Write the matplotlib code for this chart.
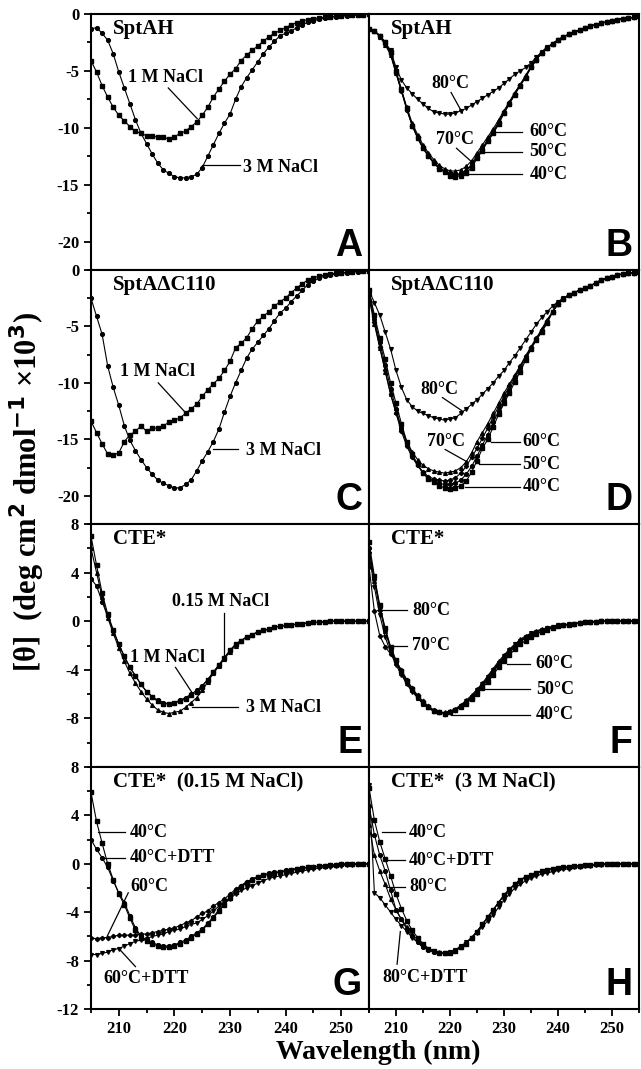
import matplotlib
matplotlib.use("Agg")
import matplotlib.pyplot as plt
from matplotlib.ticker import MultipleLocator
import numpy as np

plt.rcParams['axes.unicode_minus'] = False
plt.rcParams['font.family'] = ['Liberation Serif', 'DejaVu Serif']
plt.rcParams['font.weight'] = 'bold'

# wavelength grid (nm), one point per nm
wl = np.arange(205, 256)

############################## data (mdeg*cm2/dmol x10^3) ##############################
# A: SptAH, salt
a_1m = [-4.1, -5.1, -6.3, -7.3, -8.2, -8.9, -9.4, -9.9, -10.3, -10.5,
        -10.7, -10.75, -10.8, -10.8, -11.0, -10.8, -10.5, -10.3, -9.9, -9.5,
        -8.9, -8.2, -7.3, -6.6, -5.9, -5.3, -4.8, -4.1, -3.6, -3.2,
        -2.8, -2.4, -2.0, -1.7, -1.45, -1.2, -0.95, -0.75, -0.6, -0.5,
        -0.4, -0.35, -0.3, -0.25, -0.2, -0.15, -0.1, -0.1, -0.05, -0.05, 0.0]
a_3m = [-1.3, -1.2, -1.7, -2.3, -3.5, -5.1, -6.5, -7.9, -9.3, -10.5,
        -11.4, -12.3, -13.1, -13.7, -14.0, -14.3, -14.4, -14.4, -14.3, -14.1,
        -13.5, -12.5, -11.5, -10.5, -9.6, -8.8, -7.5, -6.4, -5.6, -4.9,
        -4.2, -3.5, -2.9, -2.4, -1.9, -1.7, -1.5, -1.2, -1.0, -0.7,
        -0.6, -0.45, -0.35, -0.3, -0.25, -0.2, -0.15, -0.1, -0.1, -0.05, 0.0]

# B: SptAH, temperature
b40 = [-1.3, -1.5, -1.9, -2.5, -3.3, -5.0, -6.6, -8.3, -9.8, -10.9,
       -11.8, -12.5, -13.1, -13.6, -13.9, -14.2, -14.3, -14.2, -14.0, -13.5,
       -12.7, -12.0, -11.2, -10.5, -9.7, -8.7, -7.9, -7.1, -6.3, -5.6,
       -4.7, -4.0, -3.4, -3.0, -2.6, -2.3, -2.0, -1.8, -1.6, -1.4,
       -1.2, -1.05, -0.95, -0.8, -0.7, -0.6, -0.5, -0.4, -0.35, -0.3, -0.2]
b50 = [-1.3, -1.5, -1.9, -2.5, -3.4, -5.1, -6.7, -8.4, -9.8, -10.9,
       -11.8, -12.5, -13.1, -13.5, -13.8, -14.1, -14.2, -14.1, -13.8, -13.2,
       -12.4, -11.8, -11.0, -10.3, -9.5, -8.6, -7.8, -7.0, -6.2, -5.5,
       -4.7, -4.0, -3.4, -3.0, -2.6, -2.3, -2.0, -1.8, -1.6, -1.4,
       -1.2, -1.05, -0.95, -0.8, -0.7, -0.6, -0.5, -0.4, -0.35, -0.3, -0.2]
b60 = [-1.3, -1.5, -1.9, -2.6, -3.5, -5.2, -6.8, -8.4, -9.8, -10.8,
       -11.7, -12.4, -13.0, -13.5, -13.8, -14.0, -14.1, -14.0, -13.8, -13.3,
       -12.6, -11.9, -11.1, -10.4, -9.6, -8.7, -7.9, -7.0, -6.2, -5.5,
       -4.7, -4.0, -3.4, -3.0, -2.6, -2.3, -2.0, -1.8, -1.6, -1.4,
       -1.2, -1.05, -0.95, -0.8, -0.7, -0.6, -0.5, -0.4, -0.35, -0.3, -0.2]
b70 = [-1.3, -1.5, -2.0, -2.7, -3.6, -5.2, -6.7, -8.2, -9.6, -10.6,
       -11.5, -12.2, -12.8, -13.3, -13.6, -13.8, -13.8, -13.7, -13.4, -12.9,
       -12.2, -11.5, -10.8, -10.1, -9.3, -8.5, -7.7, -6.9, -6.2, -5.4,
       -4.6, -4.0, -3.4, -3.0, -2.6, -2.3, -2.0, -1.8, -1.6, -1.4,
       -1.2, -1.05, -0.95, -0.8, -0.7, -0.6, -0.5, -0.4, -0.35, -0.3, -0.2]
b80 = [-1.3, -1.5, -1.9, -2.5, -3.2, -4.7, -5.8, -6.5, -7.0, -7.5,
       -7.9, -8.3, -8.6, -8.7, -8.8, -8.8, -8.7, -8.5, -8.3, -8.0,
       -7.7, -7.4, -7.1, -6.8, -6.5, -6.1, -5.7, -5.3, -5.0, -4.7,
       -4.3, -3.8, -3.3, -2.9, -2.6, -2.3, -2.0, -1.8, -1.6, -1.4,
       -1.2, -1.05, -0.95, -0.8, -0.7, -0.6, -0.5, -0.4, -0.35, -0.3, -0.2]

# C: SptAdC110, salt
c_1m = [-13.4, -14.4, -15.4, -16.3, -16.4, -16.2, -15.2, -14.6, -14.3, -13.8,
        -14.3, -14.0, -14.0, -13.8, -13.5, -13.3, -13.1, -12.7, -12.3, -11.9,
        -11.2, -10.6, -10.1, -9.6, -8.9, -8.1, -6.9, -6.5, -6.0, -5.2,
        -4.5, -4.1, -3.7, -3.2, -2.8, -2.5, -2.0, -1.6, -1.2, -0.9,
        -0.7, -0.55, -0.45, -0.35, -0.3, -0.25, -0.2, -0.15, -0.1, -0.1, -0.05]
c_3m = [-2.5, -4.1, -5.7, -8.5, -10.4, -12.0, -13.8, -15.1, -16.0, -16.8,
        -17.5, -18.1, -18.6, -18.9, -19.1, -19.3, -19.3, -19.0, -18.6, -17.8,
        -16.9, -16.1, -15.2, -14.1, -12.6, -11.2, -10.0, -8.9, -7.8, -7.0,
        -6.4, -5.8, -5.2, -4.5, -3.8, -3.4, -2.8, -2.3, -1.8, -1.3,
        -1.0, -0.7, -0.55, -0.45, -0.35, -0.3, -0.25, -0.2, -0.15, -0.1, -0.1]

# D: SptAdC110, temperature
d40 = [-1.8, -4.0, -6.0, -7.9, -10.0, -11.8, -13.6, -15.2, -16.3, -17.2,
       -18.0, -18.5, -18.8, -19.1, -19.3, -19.4, -19.3, -19.1, -18.7, -17.9,
       -16.9, -15.8, -15.0, -13.9, -12.8, -11.8, -10.9, -9.9, -9.0, -8.0,
       -7.0, -6.2, -5.5, -4.7, -3.7, -3.0, -2.6, -2.2, -2.0, -1.8,
       -1.6, -1.4, -1.15, -0.9, -0.75, -0.6, -0.45, -0.35, -0.3, -0.25, -0.2]
d50 = [-2.0, -4.3, -6.4, -8.4, -10.5, -12.3, -14.0, -15.4, -16.5, -17.3,
       -18.0, -18.4, -18.7, -18.9, -19.0, -19.0, -18.9, -18.6, -18.1, -17.4,
       -16.5, -15.5, -14.6, -13.5, -12.5, -11.5, -10.6, -9.6, -8.7, -7.8,
       -6.9, -6.1, -5.4, -4.6, -3.7, -3.0, -2.6, -2.2, -2.0, -1.8,
       -1.6, -1.4, -1.15, -0.9, -0.75, -0.6, -0.45, -0.35, -0.3, -0.25, -0.2]
d60 = [-2.2, -4.6, -6.8, -8.9, -11.0, -12.7, -14.3, -15.6, -16.6, -17.3,
       -17.9, -18.3, -18.5, -18.6, -18.7, -18.6, -18.4, -18.0, -17.4, -16.6,
       -15.8, -14.9, -14.0, -13.0, -12.1, -11.2, -10.3, -9.4, -8.5, -7.6,
       -6.8, -6.0, -5.3, -4.5, -3.7, -3.0, -2.6, -2.2, -2.0, -1.8,
       -1.6, -1.4, -1.15, -0.9, -0.75, -0.6, -0.45, -0.35, -0.3, -0.25, -0.2]
d70 = [-2.5, -4.8, -6.9, -9.0, -11.0, -12.6, -14.0, -15.2, -16.1, -16.8,
       -17.3, -17.6, -17.8, -17.9, -18.0, -17.9, -17.8, -17.5, -17.0, -16.2,
       -15.2, -14.4, -13.6, -12.7, -11.8, -10.9, -10.1, -9.3, -8.5, -7.7,
       -6.9, -6.1, -5.2, -4.4, -3.7, -3.0, -2.6, -2.2, -2.0, -1.8,
       -1.6, -1.4, -1.15, -0.9, -0.75, -0.6, -0.45, -0.35, -0.3, -0.25, -0.2]
d80 = [-1.8, -2.9, -4.0, -5.5, -7.0, -8.9, -10.4, -11.5, -12.1, -12.5,
       -12.7, -12.9, -13.1, -13.2, -13.3, -13.2, -13.1, -12.7, -12.3, -11.9,
       -11.5, -11.0, -10.5, -10.0, -9.4, -8.9, -8.2, -7.6, -6.9, -6.2,
       -5.5, -4.8, -4.2, -3.7, -3.2, -2.8, -2.5, -2.2, -2.0, -1.8,
       -1.6, -1.4, -1.15, -0.9, -0.75, -0.6, -0.45, -0.35, -0.3, -0.25, -0.2]

# E: CTE*, salt
e015 = [7.0, 4.6, 2.3, 0.6, -0.7, -1.9, -2.9, -3.8, -4.5, -5.2,
        -5.8, -6.2, -6.6, -6.8, -6.8, -6.7, -6.6, -6.4, -6.1, -5.8,
        -5.4, -4.8, -4.2, -3.6, -3.0, -2.4, -1.9, -1.6, -1.3, -1.1,
        -0.9, -0.75, -0.65, -0.5, -0.4, -0.35, -0.3, -0.25, -0.2, -0.15,
        -0.1, -0.1, -0.05, 0.0, 0.0, 0.0, 0.0, 0.0, 0.0, 0.0, 0.0]
e1m = [3.5, 2.9, 1.6, 0.4, -0.8, -1.9, -2.9, -3.8, -4.5, -5.2,
       -5.8, -6.2, -6.5, -6.7, -6.8, -6.7, -6.5, -6.3, -6.0, -5.7,
       -5.3, -4.8, -4.2, -3.6, -3.0, -2.4, -1.9, -1.6, -1.3, -1.1,
       -0.9, -0.75, -0.65, -0.5, -0.4, -0.35, -0.3, -0.25, -0.2, -0.15,
       -0.1, -0.1, -0.05, 0.0, 0.0, 0.0, 0.0, 0.0, 0.0, 0.0, 0.0]
e3m = [6.0, 4.0, 2.0, 0.3, -1.0, -2.2, -3.3, -4.3, -5.1, -5.8,
       -6.4, -6.9, -7.3, -7.5, -7.6, -7.5, -7.4, -7.1, -6.7, -6.3,
       -5.7, -5.0, -4.3, -3.7, -3.1, -2.5, -2.0, -1.6, -1.3, -1.1,
       -0.9, -0.75, -0.65, -0.5, -0.4, -0.35, -0.3, -0.25, -0.2, -0.15,
       -0.1, -0.1, -0.05, 0.0, 0.0, 0.0, 0.0, 0.0, 0.0, 0.0, 0.0]

# F: CTE*, temperature
f40 = [6.5, 3.7, 1.3, -0.6, -2.1, -3.2, -4.1, -4.9, -5.6, -6.2,
       -6.7, -7.1, -7.4, -7.5, -7.6, -7.5, -7.3, -7.1, -6.8, -6.4,
       -6.0, -5.5, -5.0, -4.4, -3.8, -3.3, -2.8, -2.3, -1.9, -1.6,
       -1.3, -1.05, -0.85, -0.7, -0.55, -0.4, -0.35, -0.3, -0.2, -0.15,
       -0.1, -0.1, -0.05, 0.0, 0.0, 0.0, 0.0, 0.0, 0.0, 0.0, 0.0]
f50 = [6.0, 3.5, 1.2, -0.7, -2.2, -3.3, -4.2, -5.0, -5.7, -6.2,
       -6.7, -7.1, -7.4, -7.5, -7.6, -7.5, -7.3, -7.0, -6.7, -6.3,
       -5.9, -5.4, -4.8, -4.2, -3.6, -3.1, -2.6, -2.1, -1.7, -1.4,
       -1.1, -0.9, -0.75, -0.6, -0.5, -0.4, -0.3, -0.25, -0.2, -0.15,
       -0.1, -0.1, -0.05, 0.0, 0.0, 0.0, 0.0, 0.0, 0.0, 0.0, 0.0]
f60 = [5.8, 3.3, 1.0, -0.8, -2.3, -3.4, -4.3, -5.1, -5.7, -6.3,
       -6.8, -7.1, -7.4, -7.5, -7.5, -7.4, -7.2, -6.9, -6.5, -6.1,
       -5.6, -5.1, -4.5, -3.9, -3.3, -2.8, -2.3, -1.9, -1.5, -1.2,
       -1.0, -0.8, -0.65, -0.55, -0.45, -0.35, -0.3, -0.25, -0.2, -0.15,
       -0.1, -0.1, -0.05, 0.0, 0.0, 0.0, 0.0, 0.0, 0.0, 0.0, 0.0]
f70 = [5.5, 2.8, 0.5, -1.3, -2.6, -3.6, -4.4, -5.2, -5.8, -6.3,
       -6.8, -7.1, -7.4, -7.5, -7.6, -7.5, -7.3, -7.0, -6.6, -6.2,
       -5.7, -5.2, -4.6, -4.0, -3.4, -2.9, -2.4, -1.9, -1.6, -1.3,
       -1.0, -0.85, -0.7, -0.55, -0.45, -0.35, -0.3, -0.25, -0.2, -0.15,
       -0.1, -0.1, -0.05, 0.0, 0.0, 0.0, 0.0, 0.0, 0.0, 0.0, 0.0]
f80 = [4.5, 0.8, -1.2, -2.1, -2.7, -3.3, -4.0, -4.8, -5.5, -6.1,
       -6.6, -7.0, -7.3, -7.5, -7.6, -7.5, -7.3, -7.0, -6.7, -6.3,
       -5.8, -5.3, -4.7, -4.1, -3.5, -3.0, -2.5, -2.0, -1.6, -1.3,
       -1.05, -0.85, -0.7, -0.55, -0.45, -0.35, -0.3, -0.25, -0.2, -0.15,
       -0.1, -0.1, -0.05, 0.0, 0.0, 0.0, 0.0, 0.0, 0.0, 0.0, 0.0]

# G: CTE* in 0.15 M NaCl, temperature +/- DTT
g40 = [5.9, 3.5, 1.7, 0.0, -1.3, -2.5, -3.4, -4.5, -5.5, -6.1,
       -6.4, -6.6, -6.8, -6.9, -6.9, -6.8, -6.6, -6.4, -6.1, -5.8,
       -5.5, -5.0, -4.5, -3.9, -3.4, -2.8, -2.3, -1.9, -1.6, -1.3,
       -1.1, -0.95, -0.85, -0.75, -0.7, -0.6, -0.5, -0.45, -0.35, -0.3,
       -0.25, -0.2, -0.15, -0.1, -0.1, -0.05, 0.0, 0.0, 0.0, 0.0, 0.0]
g40dtt = [2.0, 1.2, 0.5, -0.3, -1.4, -2.4, -3.2, -4.3, -5.3, -6.0,
          -6.3, -6.5, -6.7, -6.8, -6.8, -6.7, -6.5, -6.3, -6.0, -5.7,
          -5.4, -4.9, -4.4, -3.8, -3.3, -2.7, -2.2, -1.8, -1.5, -1.25,
          -1.05, -0.9, -0.8, -0.7, -0.65, -0.55, -0.5, -0.4, -0.35, -0.3,
          -0.25, -0.2, -0.15, -0.1, -0.1, -0.05, 0.0, 0.0, 0.0, 0.0, 0.0]
g60 = [-6.1, -6.2, -6.1, -6.1, -6.0, -5.9, -5.9, -5.9, -5.9, -5.8,
       -5.8, -5.7, -5.6, -5.5, -5.4, -5.3, -5.1, -4.9, -4.7, -4.4,
       -4.1, -3.9, -3.5, -3.2, -2.9, -2.5, -2.1, -1.8, -1.5, -1.3,
       -1.1, -0.95, -0.85, -0.75, -0.7, -0.6, -0.5, -0.4, -0.35, -0.3,
       -0.25, -0.2, -0.15, -0.1, -0.1, -0.05, 0.0, 0.0, 0.0, 0.0, 0.0]
g60dtt = [-7.5, -7.5, -7.4, -7.3, -7.1, -7.0, -6.8, -6.6, -6.4, -6.3,
          -6.2, -6.0, -5.9, -5.8, -5.6, -5.5, -5.4, -5.2, -5.0, -4.9,
          -4.6, -4.3, -3.9, -3.5, -3.2, -2.9, -2.5, -2.2, -2.0, -1.8,
          -1.6, -1.4, -1.2, -1.1, -1.0, -0.9, -0.8, -0.7, -0.6, -0.5,
          -0.4, -0.35, -0.3, -0.25, -0.2, -0.15, -0.1, -0.1, -0.05, 0.0, 0.0]

# H: CTE* in 3 M NaCl, temperature +/- DTT
h40 = [6.3, 3.6, 1.8, 0.4, -1.0, -2.5, -3.7, -4.7, -5.5, -6.1,
       -6.6, -7.0, -7.2, -7.4, -7.4, -7.4, -7.2, -6.9, -6.6, -6.1,
       -5.6, -5.0, -4.4, -3.8, -3.2, -2.6, -2.1, -1.7, -1.3, -1.1,
       -0.9, -0.75, -0.6, -0.5, -0.4, -0.35, -0.3, -0.25, -0.2, -0.15,
       -0.1, -0.1, -0.05, 0.0, 0.0, 0.0, 0.0, 0.0, 0.0, 0.0, 0.0]
h40dtt = [4.8, 2.4, 0.7, -0.6, -2.2, -3.8, -4.6, -5.4, -6.0, -6.5,
          -6.9, -7.1, -7.3, -7.4, -7.4, -7.3, -7.2, -6.9, -6.6, -6.1,
          -5.6, -5.0, -4.4, -3.8, -3.2, -2.6, -2.1, -1.7, -1.3, -1.1,
          -0.9, -0.75, -0.6, -0.5, -0.4, -0.35, -0.3, -0.25, -0.2, -0.15,
          -0.1, -0.1, -0.05, 0.0, 0.0, 0.0, 0.0, 0.0, 0.0, 0.0, 0.0]
h80 = [3.2, 0.7, -0.6, -1.7, -2.9, -3.8, -4.6, -5.2, -5.8, -6.3,
       -6.7, -7.0, -7.2, -7.3, -7.4, -7.3, -7.1, -6.9, -6.5, -6.1,
       -5.6, -5.0, -4.4, -3.8, -3.2, -2.6, -2.1, -1.7, -1.4, -1.1,
       -0.9, -0.75, -0.6, -0.5, -0.4, -0.35, -0.3, -0.25, -0.2, -0.15,
       -0.1, -0.1, -0.05, 0.0, 0.0, 0.0, 0.0, 0.0, 0.0, 0.0, 0.0]
h80dtt = [6.5, -2.4, -2.8, -3.4, -4.0, -4.6, -5.1, -5.6, -6.1, -6.5,
          -6.9, -7.1, -7.3, -7.4, -7.4, -7.3, -7.1, -6.8, -6.5, -6.1,
          -5.7, -5.2, -4.7, -4.2, -3.6, -3.0, -2.5, -2.0, -1.7, -1.4,
          -1.2, -1.0, -0.85, -0.75, -0.65, -0.55, -0.45, -0.4, -0.3, -0.25,
          -0.2, -0.15, -0.1, -0.1, -0.05, 0.0, 0.0, 0.0, 0.0, 0.0, 0.0]

############################## layout ##############################
W, H = 641, 1069
fig = plt.figure(figsize=(W / 100, H / 100), dpi=100)

rows = [(14, 270), (270, 524), (524, 767), (767, 1009)]
cols = [(91, 369), (369, 639)]

def px_axes(c, r):
    x0, x1 = cols[c]
    y0, y1 = rows[r]
    return fig.add_axes([x0 / W, 1 - y1 / H, (x1 - x0) / W, (y1 - y0) / H])

lab = dict(fontsize=13, fontweight='bold', family='Liberation Serif')
ttl = dict(fontsize=15, fontweight='bold', family='Liberation Serif')

def style(ax, r, c):
    ax.set_xlim(205, 255)
    for s in ax.spines.values():
        s.set_linewidth(1.5)
    if r < 2:
        ax.set_ylim(-22.5, 0)
        ax.yaxis.set_major_locator(MultipleLocator(5))
        ax.yaxis.set_minor_locator(MultipleLocator(2.5))
    else:
        ax.set_ylim(-12, 8)
        ax.yaxis.set_major_locator(MultipleLocator(4))
        ax.yaxis.set_minor_locator(MultipleLocator(2))
    ax.xaxis.set_major_locator(MultipleLocator(10))
    ax.xaxis.set_minor_locator(MultipleLocator(5))
    ax.tick_params(which='both', direction='out', width=1.3, labelsize=12)
    ax.tick_params(which='major', length=5)
    ax.tick_params(which='minor', length=3)
    ax.tick_params(axis='x', which='both', bottom=(r == 3), labelbottom=(r == 3), top=False)
    ax.tick_params(axis='y', which='both', left=(c == 0), labelleft=(c == 0), right=False)
    if c == 0:
        if r < 2:
            ax.set_yticks([0, -5, -10, -15, -20])
        elif r == 2:
            ax.set_yticks([8, 4, 0, -4, -8])
        else:
            ax.set_yticks([8, 4, 0, -4, -8, -12])
        ax.set_yticklabels([str(int(v)) for v in ax.get_yticks()], fontweight='bold')
    if r == 3:
        ax.set_xticks([210, 220, 230, 240, 250])
        ax.set_xticklabels(['210', '220', '230', '240', '250'], fontweight='bold')

def curve(ax, y, m, ms=2.7):
    ax.plot(wl, y, color='k', lw=0.8, marker=m, ms=ms, mfc='k', mec='k')

def note(ax, txt, tx, ty, x0, y0, x1, y1):
    ax.plot([x0, x1], [y0, y1], color='k', lw=0.9)
    ax.text(tx, ty, txt, ha='left', va='center', **lab)

def deco(ax, title, letter):
    ax.text(0.08, 0.94, title, transform=ax.transAxes, ha='left', va='center', **ttl)
    ax.text(0.975, 0.025, letter, transform=ax.transAxes, ha='right', va='bottom',
            fontsize=27, fontweight='bold', family='Liberation Sans')

# A
ax = px_axes(0, 0)
curve(ax, a_1m, 's', 2.5)
curve(ax, a_3m, 'o')
note(ax, '1 M NaCl', 211.7, -5.6, 218.9, -6.5, 224.1, -9.2)
note(ax, '3 M NaCl', 232.4, -13.5, 225.0, -13.3, 231.8, -13.3)
deco(ax, 'SptAH', 'A')
style(ax, 0, 0)

# B
ax = px_axes(1, 0)
curve(ax, b80, 'v')
curve(ax, b70, '^')
curve(ax, b60, 'D', 2.2)
curve(ax, b50, 'o')
curve(ax, b40, 's', 2.5)
note(ax, '80°C', 216.5, -6.1, 220.2, -6.9, 222.3, -8.7)
note(ax, '70°C', 217.4, -11.0, 221.2, -11.8, 224.5, -13.2)
note(ax, '60°C', 234.7, -10.35, 228.6, -10.35, 233.4, -10.35)
note(ax, '50°C', 234.7, -12.1, 226.4, -12.1, 233.4, -12.1)
note(ax, '40°C', 234.7, -14.1, 223.2, -14.1, 233.4, -14.1)
deco(ax, 'SptAH', 'B')
style(ax, 0, 1)

# C
ax = px_axes(0, 1)
curve(ax, c_1m, 's', 2.5)
curve(ax, c_3m, 'o')
note(ax, '1 M NaCl', 210.2, -9.0, 217.1, -10.0, 222.3, -12.8)
note(ax, '3 M NaCl', 232.8, -16.0, 227.0, -15.9, 231.5, -15.9)
deco(ax, 'SptAΔC110', 'C')
style(ax, 1, 0)

# D
ax = px_axes(1, 1)
curve(ax, d80, 'v')
curve(ax, d70, '^')
curve(ax, d60, 'D', 2.2)
curve(ax, d50, 'o')
curve(ax, d40, 's', 2.5)
note(ax, '80°C', 214.5, -10.6, 218.6, -11.3, 222.3, -12.5)
note(ax, '70°C', 215.8, -15.2, 219.1, -15.9, 223.2, -17.0)
note(ax, '60°C', 233.4, -15.2, 227.5, -15.2, 232.9, -15.2)
note(ax, '50°C', 233.4, -17.2, 225.4, -17.2, 232.9, -17.2)
note(ax, '40°C', 233.4, -19.2, 222.7, -19.2, 232.9, -19.2)
deco(ax, 'SptAΔC110', 'D')
style(ax, 1, 1)

# E
ax = px_axes(0, 2)
curve(ax, e015, 's', 2.5)
curve(ax, e1m, 'o')
curve(ax, e3m, '^')
note(ax, '0.15 M NaCl', 219.6, 1.6, 229.0, 0.7, 229.0, -3.2)
note(ax, '1 M NaCl', 212.0, -3.0, 220.2, -3.8, 223.2, -5.9)
note(ax, '3 M NaCl', 232.8, -7.1, 223.2, -7.1, 231.5, -7.1)
deco(ax, 'CTE*', 'E')
style(ax, 2, 0)

# F
ax = px_axes(1, 2)
curve(ax, f80, 'D', 2.2)
curve(ax, f70, 'v')
curve(ax, f60, '^')
curve(ax, f50, 'o')
curve(ax, f40, 's', 2.5)
note(ax, '80°C', 213.0, 0.9, 206.5, 0.9, 212.1, 0.9)
note(ax, '70°C', 213.0, -2.0, 209.6, -2.0, 212.1, -2.0)
note(ax, '60°C', 235.9, -3.5, 230.6, -3.5, 234.9, -3.5)
note(ax, '50°C', 235.9, -5.6, 226.4, -5.6, 234.9, -5.6)
note(ax, '40°C', 235.9, -7.7, 220.1, -7.7, 234.9, -7.7)
deco(ax, 'CTE*', 'F')
style(ax, 2, 1)

# G
ax = px_axes(0, 3)
curve(ax, g40, 's', 2.5)
curve(ax, g40dtt, 'o')
curve(ax, g60, 'D', 2.2)
curve(ax, g60dtt, 'v')
note(ax, '40°C', 212.0, 2.6, 206.3, 2.6, 211.1, 2.6)
note(ax, '40°C+DTT', 212.0, 0.5, 207.2, 0.5, 211.1, 0.5)
note(ax, '60°C', 212.0, -1.9, 211.7, -2.4, 207.9, -6.0)
note(ax, '60°C+DTT', 207.3, -9.5, 210.2, -7.1, 213.0, -8.5)
deco(ax, 'CTE*  (0.15 M NaCl)', 'G')
style(ax, 3, 0)

# H
ax = px_axes(1, 3)
curve(ax, h40, 's', 2.5)
curve(ax, h40dtt, 'o')
curve(ax, h80, '^')
curve(ax, h80dtt, 'v')
note(ax, '40°C', 212.4, 2.6, 207.4, 2.6, 211.7, 2.6)
note(ax, '40°C+DTT', 212.4, 0.3, 207.8, 0.3, 211.7, 0.3)
note(ax, '80°C', 212.4, -1.9, 208.3, -1.9, 211.7, -1.9)
note(ax, '80°C+DTT', 207.4, -9.4, 210.8, -5.6, 210.2, -8.3)
deco(ax, 'CTE*  (3 M NaCl)', 'H')
style(ax, 3, 1)

fig.text(27 / W, 1 - 492 / H, r'[θ]  (deg cm$^{\mathbf{2}}$ dmol$^{\mathbf{-1}}$ ×10$^{\mathbf{3}}$)',
         rotation=90, ha='center', va='center', fontsize=22, fontweight='bold')
fig.text(378 / W, 1 - 1052 / H, 'Wavelength (nm)', ha='center', va='center',
         fontsize=20, fontweight='bold')

fig.savefig('out.png', dpi=100)
